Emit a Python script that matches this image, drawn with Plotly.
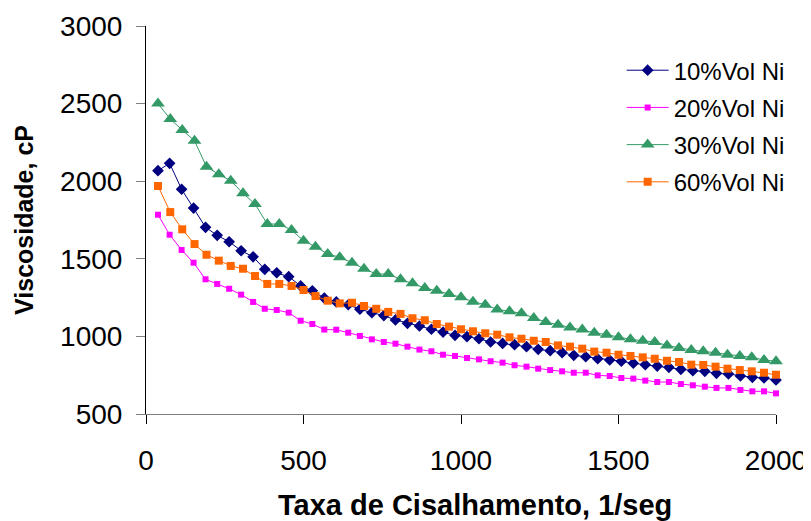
import plotly.graph_objects as go

# shear rate (1/seg) for the 30% and 60% runs, 52 readings each
taxa_a = [38, 77, 115, 154, 192, 231, 269, 308, 346, 385, 423, 462, 500,
          538, 577, 615, 654, 692, 731, 769, 808, 846, 885, 923, 962, 1000,
          1038, 1077, 1115, 1154, 1192, 1231, 1269, 1308, 1346, 1385, 1423,
          1462, 1500, 1538, 1577, 1615, 1654, 1692, 1731, 1769, 1808, 1846,
          1885, 1923, 1962, 2000]

# shear rate (1/seg) for the 10% and 20% runs, 53 readings each
taxa_b = [38, 75, 113, 151, 189, 226, 264, 302, 340, 377, 415, 453, 491,
          528, 566, 604, 642, 679, 717, 755, 792, 830, 868, 906, 943, 981,
          1019, 1057, 1094, 1132, 1170, 1208, 1245, 1283, 1321, 1358, 1396,
          1434, 1472, 1509, 1547, 1585, 1623, 1660, 1698, 1736, 1774, 1811,
          1849, 1887, 1925, 1962, 2000]

# viscosity, cP
visc_10 = [2068, 2115, 1948, 1827, 1703, 1651, 1610, 1552, 1513, 1432, 1410,
           1385, 1325, 1294, 1247, 1222, 1204, 1175, 1153, 1134, 1106, 1084,
           1067, 1046, 1028, 1007, 998, 985, 964, 955, 947, 934, 917, 908,
           895, 878, 869, 856, 848, 840, 827, 818, 809, 801, 788, 779, 775,
           762, 758, 745, 736, 732, 719]

visc_20 = [1784, 1655, 1557, 1475, 1368, 1338, 1307, 1269, 1222, 1178, 1170,
           1153, 1101, 1080, 1044, 1043, 1024, 1003, 981, 964, 953, 934, 915,
           904, 882, 874, 861, 852, 840, 831, 814, 805, 792, 783, 775, 766,
           766, 749, 745, 732, 728, 715, 706, 706, 693, 685, 676, 668, 668,
           655, 646, 646, 633]

visc_30 = [2500, 2400, 2330, 2261, 2093, 2044, 2003, 1922, 1853, 1724, 1724,
           1685, 1617, 1578, 1531, 1510, 1475, 1436, 1402, 1402, 1368, 1342,
           1312, 1294, 1273, 1252, 1224, 1204, 1174, 1162, 1149, 1119, 1093,
           1075, 1058, 1045, 1024, 1011, 994, 981, 972, 964, 942, 925, 912,
           904, 895, 882, 874, 865, 848, 840]

visc_60 = [1969, 1801, 1690, 1595, 1526, 1488, 1454, 1436, 1389, 1338, 1338,
           1325, 1299, 1260, 1230, 1213, 1217, 1196, 1178, 1158, 1145, 1117,
           1104, 1080, 1063, 1046, 1033, 1020, 1011, 994, 985, 972, 964, 942,
           934, 921, 902, 895, 882, 874, 865, 856, 843, 835, 818, 816, 805,
           792, 783, 775, 766, 753]

nomes = ['10%Vol Ni', '20%Vol Ni', '30%Vol Ni', '60%Vol Ni']

FONTE = 'Arial, Liberation Sans, sans-serif'

fig = go.Figure()

# (x, y, colour, marker symbol, marker size)
series = [
    (taxa_b, visc_10, '#000080', 'diamond', 9),
    (taxa_b, visc_20, '#FF00FF', 'square', 6),
    (taxa_a, visc_30, '#339966', 'triangle-up', 12),
    (taxa_a, visc_60, '#FF6600', 'square', 8),
]

for nome, (x, y, cor, simbolo, tam) in zip(nomes, series):
    fig.add_trace(go.Scatter(
        x=x, y=y, name=nome, legendgroup=nome,
        mode='lines+markers',
        line=dict(color=cor, width=1),
        marker=dict(color=cor, symbol=simbolo, size=tam, line=dict(width=0)),
        cliponaxis=False,
    ))

# the page body adds an 8px margin, so the figure is 8px smaller
# and its margins are shifted to keep the plot area in place
fig.update_layout(
    width=803, height=513,
    margin=dict(l=138, r=35, t=18, b=107),
    paper_bgcolor='white', plot_bgcolor='white',
    font=dict(family=FONTE, color='black', size=26),
    showlegend=True,
    legend=dict(
        x=0.755, y=0.943, xanchor='left', yanchor='top',
        font=dict(size=24, color='black'),
        itemwidth=42,
        tracegroupgap=3,
        bgcolor='rgba(0,0,0,0)',
    ),
)

# x title sits a little right of the plot centre, so it is an annotation
fig.add_annotation(
    text='Taxa de Cisalhamento, 1/seg',
    xref='paper', yref='paper', x=0.522, y=0,
    xanchor='center', yanchor='middle', yshift=-91,
    showarrow=False,
    font=dict(size=29, weight='bold', color='black'),
)

fig.update_xaxes(
    range=[0, 2000], tickvals=[0, 500, 1000, 1500, 2000],
    automargin=False,
    showgrid=False, zeroline=False,
    showline=True, linecolor='#808080', linewidth=1,
    ticks='outside', ticklen=9, tickcolor='black',
    ticklabelstandoff=12,
    tickfont=dict(size=28),
)

fig.update_yaxes(
    range=[500, 3000], tickvals=[500, 1000, 1500, 2000, 2500, 3000],
    automargin=False,
    showgrid=False, zeroline=False,
    showline=True, linecolor='black', linewidth=1,
    ticks='outside', ticklen=9, tickcolor='#808080',
    ticklabelstandoff=8,
    tickfont=dict(size=28),
    title=dict(text='Viscosidade, cP',
               font=dict(size=25, weight='bold'), standoff=19),
)

fig.write_html("out.html")
